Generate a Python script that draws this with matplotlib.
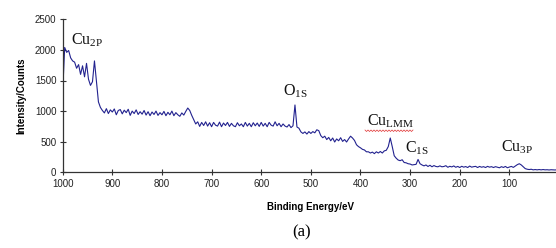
import numpy as np
import matplotlib
matplotlib.use("Agg")
import matplotlib.pyplot as plt

plt.rcParams['font.family'] = ['Liberation Sans', 'DejaVu Sans']
plt.rcParams['mathtext.fontset'] = 'custom'
plt.rcParams['mathtext.rm'] = 'Liberation Serif'
plt.rcParams['mathtext.it'] = 'Liberation Serif'

# binding energy grid (eV), 4 eV steps from 1000 down to 0
binding_energy = np.arange(1000, -1, -4)

# counts
counts = [
    # 1000 .. 924 (Cu 2p region)
    1320, 2040, 1960, 1990, 1870, 1820, 1800, 1700, 1760, 1600,
    1740, 1560, 1780, 1520, 1420, 1480, 1820, 1480, 1150, 1060,
    # 920
    1010, 970, 1040, 960, 1020, 985, 1035, 940, 1010, 1025,
    # 880
    955, 1015, 975, 1030, 930, 1000, 960, 1020, 945, 990,
    # 840
    950, 1010, 935, 990, 925, 985, 945, 1000, 930, 975,
    # 800
    940, 995, 925, 980, 940, 1000, 925, 975, 940, 915,
    # 760
    970, 935, 995, 1050, 1010, 930, 860, 790, 825, 750,
    # 720
    815, 765, 825, 755, 810, 745, 815, 770, 755, 820,
    # 680
    745, 805, 765, 815, 750, 800, 760, 745, 810, 760,
    # 640
    790, 745, 815, 755, 800, 745, 810, 760, 805, 750,
    # 600
    815, 755, 800, 745, 815, 770, 755, 825, 760, 800,
    # 560 (O 1s)
    745, 790, 755, 740, 780, 730, 760, 1100, 740, 720,
    # 520
    660, 635, 660, 625, 665, 635, 665, 645, 695, 680,
    # 480
    600, 565, 590, 535, 570, 515, 560, 495, 545, 515,
    # 440
    565, 505, 535, 495, 545, 590, 560, 520, 450, 420,
    # 400
    400, 375, 365, 335, 335, 315, 330, 305, 335, 315,
    # 360 (Cu LMM)
    340, 315, 350, 360, 420, 560, 420, 270, 230, 200,
    # 320 (C 1s)
    190, 205, 160, 155, 140, 135, 120, 125, 130, 210,
    # 280
    140, 120, 105, 120, 95, 115, 90, 110, 95, 90,
    # 240
    105, 90, 95, 108, 82, 98, 88, 104, 82, 96,
    # 200
    78, 98, 84, 94, 78, 102, 84, 92, 97, 78,
    # 160
    96, 83, 92, 78, 97, 84, 92, 78, 92, 83,
    # 120 (Cu 3p)
    74, 92, 79, 96, 74, 86, 96, 80, 102, 125,
    # 80
    140, 120, 90, 60, 50, 45, 50, 40, 45, 40,
    # 40
    45, 40, 45, 40, 42, 38, 42, 40, 38, 42,
    # 0
    40,
]

# peak labels: (main, subscript, energy, counts at label centre)
peak_labels = [
    ("Cu", "2P", 951, 2160),
    ("O", "1S", 531, 1330),
    ("Cu", "LMM", 340, 840),
    ("C", "1S", 286, 400),
    ("Cu", "3P", 84, 415),
]

fig = plt.figure(figsize=(5.56, 2.48), dpi=100)
W, H = 556, 248
ax = fig.add_axes([62.7 / W, 75.7 / H, (559 - 62.7) / W, 153 / H])

ax.plot(binding_energy, counts, color='#22228f', lw=0.8)

ax.set_xlim(1000, 0)
ax.set_ylim(0, 2500)
ax.set_xticks(np.arange(1000, -1, -100))
ax.set_yticks(np.arange(0, 2501, 500))

for s in ['top', 'right']:
    ax.spines[s].set_visible(False)
for s in ['left', 'bottom']:
    ax.spines[s].set_color('#333333')
    ax.spines[s].set_linewidth(0.9)

ax.tick_params(direction='inout', length=5, width=0.8, color='#333333',
               labelsize=7, labelcolor='#222222', pad=2)

ax.set_xlabel('Binding Energy/eV', fontsize=7, fontweight='bold', labelpad=10)
ax.set_ylabel('Intensity/Counts', fontsize=7, fontweight='bold', labelpad=6)

for main, sub, xe, yc in peak_labels:
    ax.text(xe, yc, r'$\mathrm{%s_{%s}}$' % (main, sub), fontsize=11.5,
            ha='center', va='center', color='#111111')

# red spell-check squiggle under Cu_LMM
zx = np.arange(365, 414, 1.5)
zy = np.where(np.arange(len(zx)) % 2 == 0, 130.0, 131.5)
fig.add_artist(plt.Line2D(zx / W, 1 - zy / H, color='#e03030', lw=0.5))

fig.text(302 / W, 1 - 232 / H, '(a)', fontsize=12, ha='center', va='center',
         family='Liberation Serif')

fig.savefig('out.png', dpi=100)
